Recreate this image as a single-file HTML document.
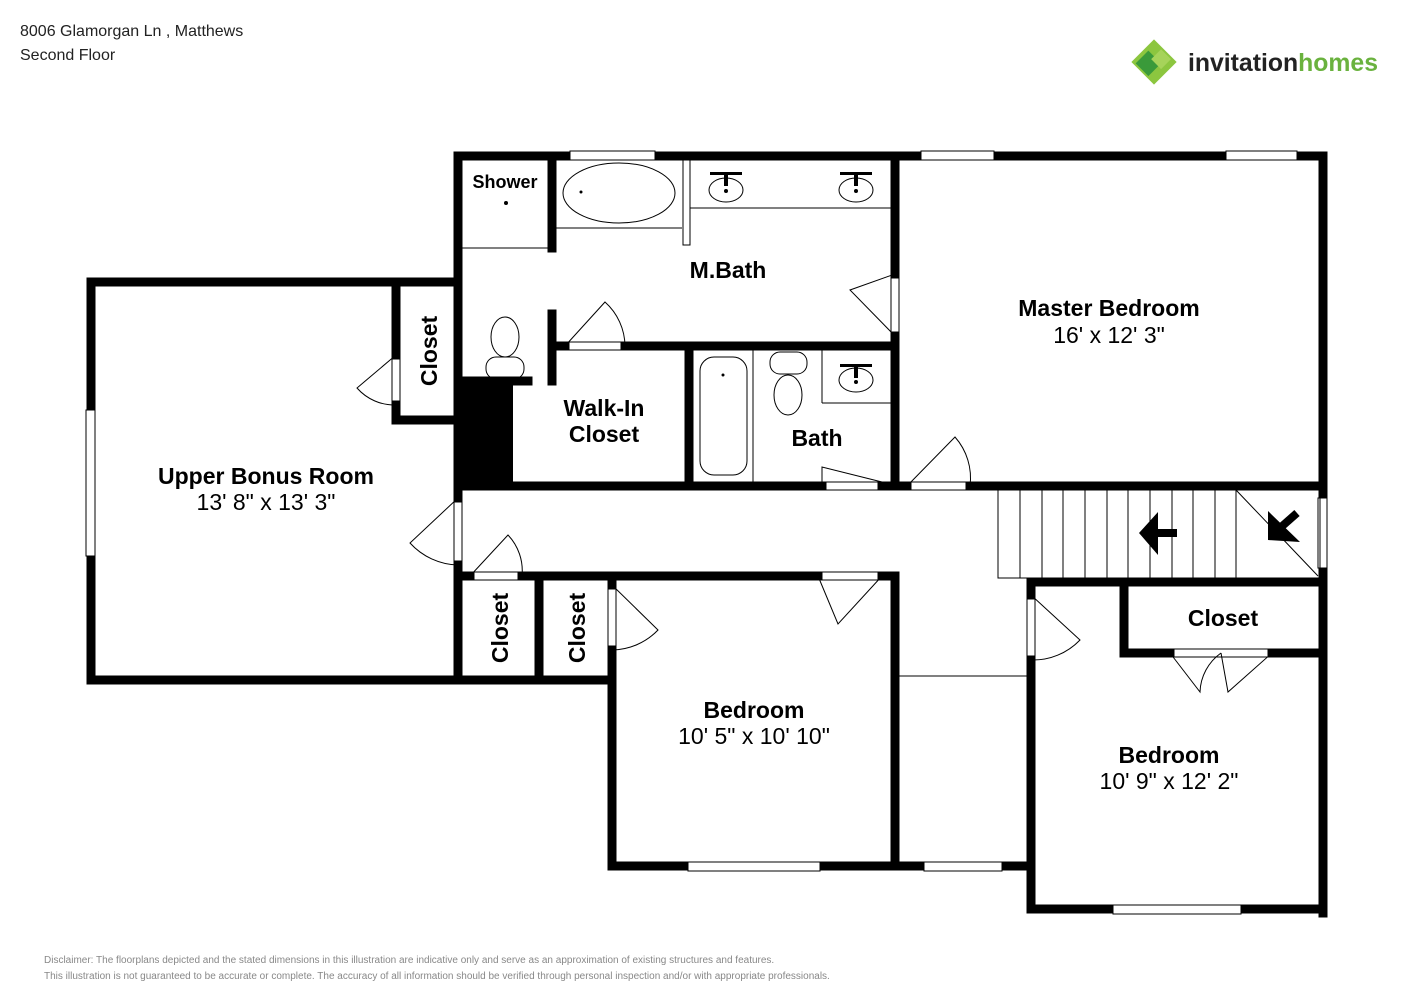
<!DOCTYPE html>
<html><head><meta charset="utf-8"><style>
html,body{margin:0;padding:0;background:#fff;width:1414px;height:1000px;overflow:hidden}
svg{display:block}
text{font-family:"Liberation Sans",Arial,sans-serif}
.b{font-weight:bold;font-size:23px}
.r{font-size:23px}
</style></head><body>
<svg width="1414" height="1000" viewBox="0 0 1414 1000">
<text x="20" y="36" font-size="16" fill="#222">8006 Glamorgan Ln , Matthews</text>
<text x="20" y="60" font-size="16" fill="#222">Second Floor</text>
<!-- logo -->
<g transform="translate(1154,62)">
<rect x="-16" y="-16" width="32" height="32" fill="#8cc63f" transform="rotate(45)"/>
<rect x="-12" y="-4" width="18" height="18" fill="#3a9a3a" transform="rotate(45)"/>
<rect x="-4" y="-14" width="14" height="14" fill="#a6d35a" transform="rotate(45)"/>
</g>
<text x="1188" y="71" font-size="25" font-weight="bold" fill="#222" textLength="190" lengthAdjust="spacingAndGlyphs">invitation<tspan fill="#6ab23e">homes</tspan></text>

<g stroke="#000" stroke-width="9" fill="none" stroke-linecap="square">
<path d="M458 156 H1323 V913"/>
<path d="M458 156 V490"/>
<path d="M458 490 V498 M458 565 V680"/>
<path d="M552 160 V248 M552 314 V381 M458 381 H528"/>
<path d="M552 346 H565 M625 346 H895"/>
<path d="M895 156 V274 M895 336 V486"/>
<path d="M689 346 V486"/>
<path d="M458 486 H822 M882 486 H907 M970 486 H1323"/>
<path d="M91 282 H458 M91 282 V410 M91 556 V680 H612"/>
<path d="M396 282 V355 M396 405 V420 H458"/>
<path d="M458 576 H470 M522 576 H818 M882 576 H895"/>
<path d="M539 576 V680 M612 576 V585 M612 650 V866"/>
<path d="M895 576 V866 H612"/>
<path d="M895 866 H1031"/>
<path d="M1031 582 H1323 M1031 582 V595 M1031 660 V909 H1323"/>
<path d="M1124 582 V653 H1170 M1272 653 H1323"/>
</g>
<rect x="454" y="381" width="59" height="109" fill="#000"/>
<g fill="#fff" stroke="#000" stroke-width="1">
<rect x="570" y="151" width="85" height="9"/>
<rect x="921" y="151" width="73" height="9"/>
<rect x="1226" y="151" width="71" height="9"/>
<rect x="86" y="410" width="9" height="146"/>
<rect x="1318" y="498" width="9" height="70"/>
<rect x="688" y="862" width="132" height="9"/>
<rect x="924" y="862" width="78" height="9"/>
<rect x="1113" y="905" width="128" height="9"/>
</g>
<g fill="none" stroke="#000" stroke-width="1">
<line x1="458" y1="248" x2="548" y2="248"/>
<line x1="556" y1="228" x2="682" y2="228"/>
<rect x="683" y="160" width="7" height="85"/>
<line x1="690" y1="208" x2="891" y2="208"/>
<ellipse cx="619" cy="193" rx="56" ry="30"/>
<ellipse cx="726" cy="190" rx="17" ry="12"/>
<ellipse cx="856" cy="190" rx="17" ry="12"/>
<ellipse cx="856" cy="380" rx="17" ry="12"/>
<line x1="822" y1="403" x2="891" y2="403"/>
<line x1="822" y1="350" x2="822" y2="403"/>
<ellipse cx="505" cy="337" rx="14" ry="20"/>
<rect x="486" y="357" width="38" height="22" rx="10"/>
<rect x="700" y="357" width="47" height="118" rx="14"/>
<line x1="753" y1="350" x2="753" y2="482"/>
<ellipse cx="788" cy="395" rx="14" ry="20"/>
<rect x="770" y="352" width="37" height="22" rx="10"/>
<path d="M565 346 L605 302 A60 60 0 0 1 625 346"/><rect x="565" y="342" width="60" height="8"/>
<path d="M895 274 L850 290 L895 336"/><rect x="891" y="274" width="8" height="62"/>
<path d="M822 482 V467 L882 482"/><rect x="822" y="482" width="60" height="8"/>
<path d="M907 486 L955 437 A62 62 0 0 1 970 486"/><rect x="907" y="482" width="63" height="8"/>
<path d="M396 355 L357 388 A50 50 0 0 0 396 405"/><rect x="392" y="355" width="8" height="50"/>
<path d="M458 498 L410 543 A67 67 0 0 0 458 565"/><rect x="454" y="498" width="8" height="67"/>
<path d="M470 576 L508 535 A52 52 0 0 1 522 576"/><rect x="470" y="572" width="52" height="8"/>
<path d="M612 585 L658 630 A65 65 0 0 1 612 650"/><rect x="608" y="585" width="8" height="65"/>
<path d="M818 576 L838 624 L882 576"/><rect x="818" y="572" width="64" height="8"/>
<path d="M1031 595 L1080 640 A65 65 0 0 1 1031 660"/><rect x="1027" y="595" width="8" height="65"/>
<path d="M1170 653 L1200 692 A50 50 0 0 1 1221 653 M1221 653 L1228 692 L1272 653"/><rect x="1170" y="649" width="102" height="8"/>
<line x1="899" y1="676" x2="1027" y2="676"/>
<rect x="998" y="490" width="322" height="88"/>
<path d="M1020 490V578M1042 490V578M1063 490V578M1085 490V578M1107 490V578M1128 490V578M1150 490V578M1172 490V578M1193 490V578M1215 490V578M1236 490V578 M1236 490 L1318 576"/>
</g>
<g fill="#000">
<circle cx="581" cy="192" r="1.5"/><circle cx="506" cy="203" r="2"/>
<circle cx="726" cy="191" r="2"/><circle cx="856" cy="191" r="2"/><circle cx="856" cy="382" r="2"/>
<circle cx="723" cy="375" r="1.5"/>
<path d="M710 172h32v3h-32z M724 172h4v14h-4z M840 172h32v3h-32z M854 172h4v14h-4z M840 364h32v3h-32z M854 364h4v14h-4z"/>
<path d="M1139 533 L1158 512 L1158 529 L1177 529 L1177 537 L1158 537 L1158 555 Z"/>
<path d="M1268 511 L1268 540 L1300 542 Z"/>
</g>
<line x1="1280" y1="528" x2="1297" y2="513" stroke="#000" stroke-width="8"/>
<text x="505" y="188" text-anchor="middle" font-weight="bold" font-size="18">Shower</text>
<text x="728" y="278" text-anchor="middle" class="b">M.Bath</text>
<text x="1109" y="316" text-anchor="middle" class="b">Master Bedroom</text>
<text x="1109" y="343" text-anchor="middle" class="r">16' x 12' 3"</text>
<text x="604" y="416" text-anchor="middle" class="b">Walk-In</text>
<text x="604" y="442" text-anchor="middle" class="b">Closet</text>
<text x="817" y="446" text-anchor="middle" class="b">Bath</text>
<text x="266" y="484" text-anchor="middle" class="b">Upper Bonus Room</text>
<text x="266" y="510" text-anchor="middle" class="r">13' 8" x 13' 3"</text>
<text transform="translate(437,351) rotate(-90)" text-anchor="middle" class="b">Closet</text>
<text transform="translate(508,628) rotate(-90)" text-anchor="middle" class="b">Closet</text>
<text transform="translate(585,628) rotate(-90)" text-anchor="middle" class="b">Closet</text>
<text x="1223" y="626" text-anchor="middle" class="b">Closet</text>
<text x="754" y="718" text-anchor="middle" class="b">Bedroom</text>
<text x="754" y="744" text-anchor="middle" class="r">10' 5" x 10' 10"</text>
<text x="1169" y="763" text-anchor="middle" class="b">Bedroom</text>
<text x="1169" y="789" text-anchor="middle" class="r">10' 9" x 12' 2"</text>
<text x="44" y="963" font-size="10" fill="#888">Disclaimer: The floorplans depicted and the stated dimensions in this illustration are indicative only and serve as an approximation of existing structures and features.</text>
<text x="44" y="979" font-size="10" fill="#888">This illustration is not guaranteed to be accurate or complete. The accuracy of all information should be verified through personal inspection and/or with appropriate professionals.</text>
</svg>
</body></html>
